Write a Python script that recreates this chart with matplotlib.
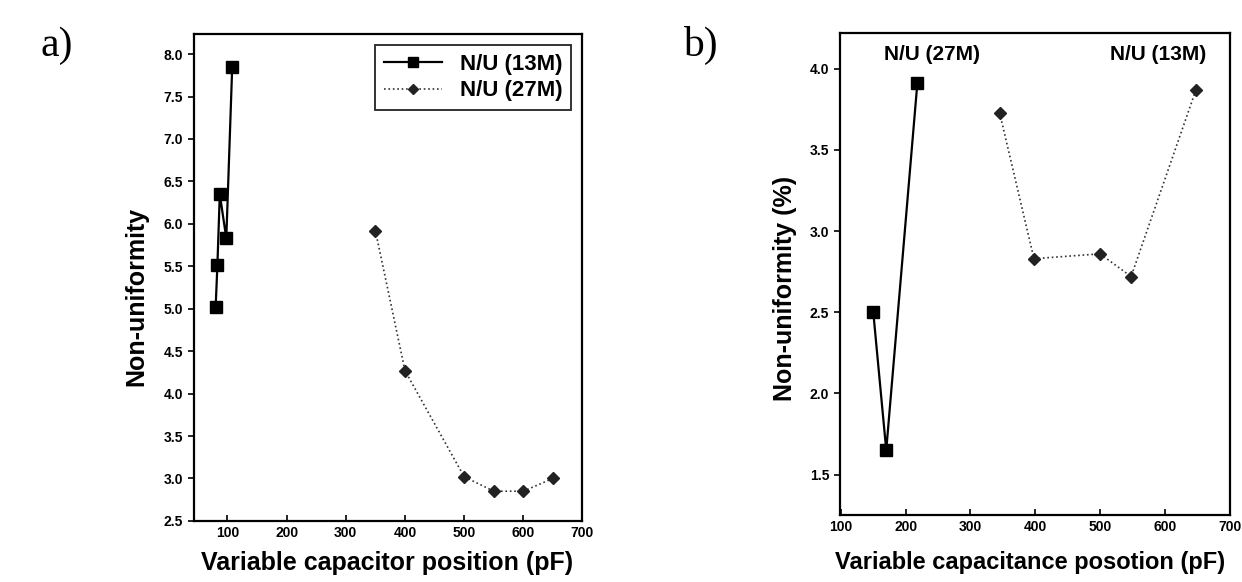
import matplotlib
matplotlib.use("Agg")
import matplotlib.pyplot as plt

plt.rcParams["font.family"] = ["Liberation Sans", "DejaVu Sans"]

# panel (a)
a_x13 = [80, 83, 87, 98, 108]
a_y13 = [5.02, 5.52, 6.35, 5.83, 7.85]
a_x27 = [350, 400, 500, 550, 600, 650]
a_y27 = [5.92, 4.27, 3.02, 2.85, 2.85, 3.0]
a_yticks = [2.5, 3.0, 3.5, 4.0, 4.5, 5.0, 5.5, 6.0, 6.5, 7.0, 7.5, 8.0]
a_xticks = [100, 200, 300, 400, 500, 600, 700]

# panel (b)
b_x27 = [150, 170, 218]
b_y27 = [2.5, 1.65, 3.91]
b_x13 = [345, 398, 500, 548, 648]
b_y13 = [3.73, 2.83, 2.86, 2.72, 3.87]
b_yticks = [1.5, 2.0, 2.5, 3.0, 3.5, 4.0]
b_xticks = [100, 200, 300, 400, 500, 600, 700]

fig = plt.figure(figsize=(12.42, 5.82), dpi=100)
axA = fig.add_axes([0.156, 0.105, 0.313, 0.837])
axB = fig.add_axes([0.676, 0.115, 0.314, 0.828])

for ax in (axA, axB):
    for s in ax.spines.values():
        s.set_linewidth(1.6)
    ax.tick_params(axis="y", direction="out", length=4, width=1.2, labelsize=10)
    ax.tick_params(axis="x", direction="in", length=4, width=1.2, labelsize=10)

# (a)
axA.plot(a_x13, a_y13, "-", color="black", lw=1.6, marker="s", ms=9,
         label="N/U (13M)", zorder=3)
axA.plot(a_x27, a_y27, ":", color="#333333", lw=1.2, marker="D", ms=6.5,
         mfc="#222222", mec="#222222", label="N/U (27M)", zorder=3)
axA.set_xlim(43, 700)
axA.set_ylim(2.5, 8.24)
axA.set_xticks(a_xticks)
axA.set_yticks(a_yticks)
axA.set_yticklabels(["%.1f" % v for v in a_yticks], fontweight="bold")
axA.set_xticklabels([str(v) for v in a_xticks], fontweight="bold")
leg = axA.legend(loc="upper right", frameon=True, fancybox=False,
                 edgecolor="black", borderaxespad=0.5, handlelength=2.6,
                 labelspacing=0.25, markerscale=0.75,
                 prop={"weight": "bold", "size": 16})
leg.get_frame().set_linewidth(1.4)

# (b)
axB.plot(b_x27, b_y27, "-", color="black", lw=1.6, marker="s", ms=9, zorder=3)
axB.plot(b_x13, b_y13, ":", color="#333333", lw=1.2, marker="D", ms=6.5,
         mfc="#222222", mec="#222222", zorder=3)
axB.set_xlim(98, 700)
axB.set_ylim(1.25, 4.22)
axB.set_xticks(b_xticks)
axB.set_yticks(b_yticks)
axB.set_yticklabels(["%.1f" % v for v in b_yticks], fontweight="bold")
axB.set_xticklabels([str(v) for v in b_xticks], fontweight="bold")
axB.text(0.238, 0.955, "N/U (27M)", transform=axB.transAxes, ha="center",
         va="center", fontsize=15, fontweight="bold")
axB.text(0.818, 0.955, "N/U (13M)", transform=axB.transAxes, ha="center",
         va="center", fontsize=15, fontweight="bold")

# axis labels
fig.text(0.110, 0.49, "Non-uniformity", rotation=90, ha="center", va="center",
         fontsize=18, fontweight="bold")
fig.text(0.632, 0.505, "Non-uniformity (%)", rotation=90, ha="center",
         va="center", fontsize=18, fontweight="bold")
fig.text(0.312, 0.033, "Variable capacitor position (pF)", ha="center",
         va="center", fontsize=18, fontweight="bold")
fig.text(0.672, 0.033, "Variable capacitance posotion (pF)", ha="left",
         va="center", fontsize=17, fontweight="bold")

# panel letters
fig.text(0.046, 0.922, "a)", ha="center", va="center", fontsize=30,
         family="Liberation Serif")
fig.text(0.564, 0.922, "b)", ha="center", va="center", fontsize=30,
         family="Liberation Serif")

fig.savefig("out.png", dpi=100)
